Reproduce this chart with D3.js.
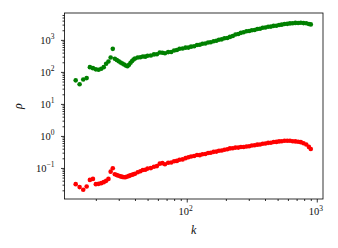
<!DOCTYPE html>
<html>
<head>
<meta charset="utf-8">
<script src="https://cdn.jsdelivr.net/npm/d3@7"></script>
<style>
  body { margin: 0; background: #fff; }
  text { font-family: "Liberation Serif", "DejaVu Serif", serif; fill: #111; }
</style>
</head>
<body>
<div id="chart"></div>
<script>
// degree k
const kValues = [14, 15, 16, 17, 18, 19, 20, 21, 22, 23, 24, 25, 26, 27, 28, 29, 30, 31, 32, 33, 34, 35, 36, 37, 38, 39,
    40, 42, 44, 46, 48, 50, 53, 56, 59, 62, 65, 68, 72, 76, 80, 84, 88, 93, 98, 103, 108, 114, 120, 126, 132, 139,
    146, 153, 161, 169, 177, 186, 195, 205, 215, 226, 237, 249, 261, 274, 288, 302, 317, 333, 349, 366, 384, 403,
    423, 444, 466, 489, 513, 538, 565, 593, 622, 653, 685, 719, 754, 791, 830, 870, 900];

// green series
const rhoGreen = [54.5, 41, 58, 64, 141, 131, 120, 117, 126, 141, 180, 212, 282, 525, 257, 236, 216, 197, 184, 171, 159, 151, 168, 193, 220, 244,
    262, 282, 288, 302, 300, 318, 326, 352, 356, 404, 396, 382, 415, 420, 468, 482, 530, 536, 572, 575, 615, 636, 690, 705, 756, 770,
    830, 848, 910, 940, 1015, 1040, 1120, 1150, 1240, 1320, 1480, 1530, 1660, 1725, 1860, 1890, 2010, 2040, 2180, 2220, 2390, 2440,
    2560, 2600, 2750, 2780, 2930, 2990, 3130, 3170, 3280, 3300, 3400, 3380, 3420, 3340, 3300, 3130, 3050];

// red series
const rhoRed = [0.0312, 0.0252, 0.0208, 0.0262, 0.0424, 0.0455, 0.0312, 0.0319, 0.0335, 0.0360, 0.0395, 0.0455, 0.0767, 0.098, 0.0637, 0.0597,
    0.0572, 0.0545, 0.0525, 0.0514, 0.0517, 0.0541, 0.0565, 0.0593, 0.0615, 0.0637,
    0.0661, 0.0730, 0.0785, 0.0860, 0.0880, 0.0955, 0.099, 0.1090, 0.1140, 0.136, 0.141, 0.130, 0.145, 0.148, 0.162, 0.166, 0.180,
    0.185, 0.202, 0.217, 0.229, 0.236, 0.253, 0.251, 0.268, 0.273, 0.294, 0.299, 0.318, 0.324, 0.344, 0.351, 0.372, 0.382, 0.408,
    0.411, 0.432, 0.432, 0.451, 0.450, 0.470, 0.477, 0.502, 0.509, 0.535, 0.542, 0.572, 0.578, 0.608, 0.614, 0.648, 0.650, 0.676,
    0.680, 0.706, 0.704, 0.706, 0.680, 0.674, 0.656, 0.640, 0.592, 0.540, 0.455, 0.392];

const xMajor = [100, 1000];
const yMajor = [0.1, 1, 10, 100, 1000];
const yMajorExp = ["\u22121", "0", "1", "2", "3"];
const xMajorExp = ["2", "3"];

const width = 338, height = 248;
const plot = {left: 64.5, right: 323, top: 13, bottom: 199};

const svg = d3.select("#chart").append("svg")
    .attr("width", width)
    .attr("height", height);

const x = d3.scaleLog()
    .domain([Math.pow(10, 1.06), Math.pow(10, 3.048)])
    .range([plot.left, plot.right]);

const y = d3.scaleLog()
    .domain([Math.pow(10, -1.97), Math.pow(10, 3.84)])
    .range([plot.bottom, plot.top]);

// minor ticks: 2..9 times each decade inside the domain
function minors(scale) {
    const [a, b] = scale.domain();
    const out = [];
    for (let e = Math.floor(Math.log10(a)); e <= Math.ceil(Math.log10(b)); e++) {
        for (let m = 2; m <= 9; m++) {
            const v = m * Math.pow(10, e);
            if (v >= a && v <= b) out.push(v);
        }
    }
    return out;
}

// dots
svg.append("g")
    .selectAll("circle")
    .data(kValues.map((k, i) => [k, rhoGreen[i]]))
    .enter()
    .append("circle")
        .attr("cx", d => x(d[0]))
        .attr("cy", d => y(d[1]))
        .attr("r", 2.3)
        .attr("fill", "#008000");

svg.append("g")
    .selectAll("circle")
    .data(kValues.map((k, i) => [k, rhoRed[i]]))
    .enter()
    .append("circle")
        .attr("cx", d => x(d[0]))
        .attr("cy", d => y(d[1]))
        .attr("r", 2.3)
        .attr("fill", "#ff0000");

// x axis
svg.append("g")
    .attr("transform", `translate(0,${plot.bottom})`)
    .call(d3.axisBottom(x).tickValues(minors(x)).tickSize(2).tickFormat(""))
    .call(g => g.select(".domain").remove());

svg.append("g")
    .attr("transform", `translate(0,${plot.bottom})`)
    .call(d3.axisBottom(x).tickValues(xMajor).tickSize(3.5).tickFormat(""))
    .call(g => g.select(".domain").remove());

// y axis
svg.append("g")
    .attr("transform", `translate(${plot.left},0)`)
    .call(d3.axisLeft(y).tickValues(minors(y)).tickSize(2).tickFormat(""))
    .call(g => g.select(".domain").remove());

svg.append("g")
    .attr("transform", `translate(${plot.left},0)`)
    .call(d3.axisLeft(y).tickValues(yMajor).tickSize(3.5).tickFormat(""))
    .call(g => g.select(".domain").remove());

svg.selectAll(".tick line").attr("stroke", "#000").attr("stroke-width", 0.8);

// tick labels as 10 with superscript
const xl = svg.append("g").selectAll("text")
    .data(xMajor)
    .enter()
    .append("text")
        .attr("x", d => x(d) - 1)
        .attr("y", plot.bottom + 16)
        .attr("text-anchor", "middle")
        .attr("font-size", 10.5);
xl.append("tspan").text("10");
xl.append("tspan").attr("dy", -4.5).attr("font-size", 7.5).text((d, i) => xMajorExp[i]);

const yl = svg.append("g").selectAll("text")
    .data(yMajor)
    .enter()
    .append("text")
        .attr("x", plot.left - 10)
        .attr("y", d => y(d) + 4)
        .attr("text-anchor", "end")
        .attr("font-size", 10.5);
yl.append("tspan").text("10");
yl.append("tspan").attr("dy", -4.5).attr("font-size", 7.5).text((d, i) => yMajorExp[i]);

// frame
svg.append("rect")
    .attr("x", plot.left)
    .attr("y", plot.top)
    .attr("width", plot.right - plot.left)
    .attr("height", plot.bottom - plot.top)
    .attr("fill", "none")
    .attr("stroke", "#000")
    .attr("stroke-width", 0.8);

// axis labels
svg.append("text")
    .attr("x", (plot.left + plot.right) / 2)
    .attr("y", 234)
    .attr("text-anchor", "middle")
    .attr("font-size", 12)
    .attr("font-style", "italic")
    .text("k");

svg.append("text")
    .attr("transform", `translate(22,${(plot.top + plot.bottom) / 2}) rotate(-90)`)
    .attr("text-anchor", "middle")
    .attr("font-size", 12)
    .attr("font-style", "italic")
    .text("\u03c1");
</script>
</body>
</html>
